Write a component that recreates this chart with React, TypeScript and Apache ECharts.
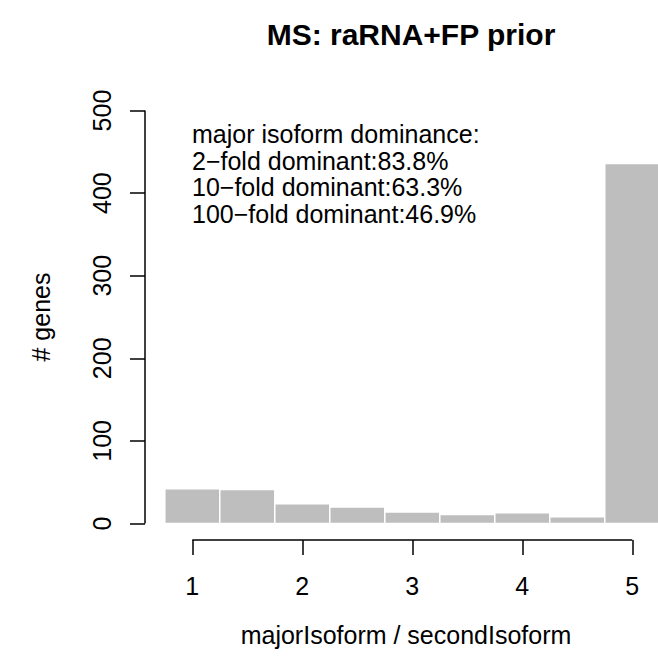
import React, { useEffect, useRef } from "react";
import * as echarts from "echarts";

const binEdges = [0.75, 1.25, 1.75, 2.25, 2.75, 3.25, 3.75, 4.25, 4.75, 5.25];
const counts = [42, 41, 24, 20, 14, 11, 13, 8, 436];
const xTicks = [1, 2, 3, 4, 5];
const yTicks = [0, 100, 200, 300, 400, 500];
const titleText = "MS: raRNA+FP prior";
const xLabel = "majorIsoform / secondIsoform";
const yLabel = "# genes";
const noteLines = [
  "major isoform dominance:",
  "2\u2212fold dominant:83.8%",
  "10\u2212fold dominant:63.3%",
  "100\u2212fold dominant:46.9%",
];

const FONT = '"Liberation Sans", Arial, Helvetica, sans-serif';
const X_MIN = 0.57;
const X_MAX = 5.234;
const Y_MIN = -20;
const Y_MAX = 520;

export default function App() {
  const ref = useRef<HTMLDivElement>(null);
  useEffect(() => {
    document.body.style.margin = "0";
    const chart = echarts.init(ref.current!, null, { renderer: "svg" });
    const barData = counts.map((c, i) => [binEdges[i], binEdges[i + 1], c]);
    const textStyle = (size: number, weight = "normal") => ({
      fontSize: size,
      fontWeight: weight,
      fontFamily: FONT,
      fill: "#000",
    });
    chart.setOption({
      animation: false,
      backgroundColor: "#ffffff",
      grid: { left: 145, right: 0, top: 94, bottom: 123, containLabel: false },
      xAxis: {
        type: "value",
        min: X_MIN,
        max: X_MAX,
        axisLine: { show: false, onZero: false },
        splitLine: { show: false },
        axisTick: {
          show: true,
          length: 15,
          customValues: xTicks,
          lineStyle: { color: "#000", width: 1.5 },
        },
        axisLabel: {
          customValues: xTicks,
          margin: 33,
          fontSize: 25,
          fontFamily: FONT,
          color: "#000",
        },
      },
      yAxis: {
        type: "value",
        min: Y_MIN,
        max: Y_MAX,
        axisLine: { show: false, onZero: false },
        splitLine: { show: false },
        axisTick: {
          show: true,
          length: 15,
          customValues: yTicks,
          lineStyle: { color: "#000", width: 1.5 },
        },
        axisLabel: {
          customValues: yTicks,
          rotate: 90,
          margin: 31,
          fontSize: 25,
          fontFamily: FONT,
          color: "#000",
        },
      },
      series: [
        {
          type: "custom",
          data: barData,
          encode: { x: [0, 1], y: 2 },
          renderItem: (params: any, api: any) => {
            const p0 = api.coord([api.value(0), api.value(2)]);
            const p1 = api.coord([api.value(1), 0]);
            return {
              type: "rect",
              shape: { x: p0[0], y: p0[1], width: p1[0] - p0[0], height: p1[1] - p0[1] },
              style: { fill: "#bebebe", stroke: "#ffffff", lineWidth: 1.5 },
            };
          },
        },
        {
          type: "line",
          data: [
            [xTicks[0], Y_MIN],
            [xTicks[xTicks.length - 1], Y_MIN],
          ],
          symbol: "none",
          clip: false,
          lineStyle: { color: "#000", width: 1.5 },
          silent: true,
        },
        {
          type: "line",
          data: [
            [X_MIN, yTicks[0]],
            [X_MIN, yTicks[yTicks.length - 1]],
          ],
          symbol: "none",
          clip: false,
          lineStyle: { color: "#000", width: 1.5 },
          silent: true,
        },
      ],
      graphic: [
        {
          type: "text",
          x: 411,
          y: 34,
          style: { text: titleText, ...textStyle(30, "bold"), align: "center", verticalAlign: "middle" },
        },
        ...noteLines.map((t, i) => ({
          type: "text",
          x: 192,
          y: 134 + i * 26.6,
          style: { text: t, ...textStyle(25), align: "left", verticalAlign: "middle" },
        })),
        {
          type: "text",
          x: 406,
          y: 635,
          style: { text: xLabel, ...textStyle(25), align: "center", verticalAlign: "middle" },
        },
        {
          type: "text",
          x: 41,
          y: 317,
          rotation: Math.PI / 2,
          style: { text: yLabel, ...textStyle(25), align: "center", verticalAlign: "middle" },
        },
      ],
    });
    return () => chart.dispose();
  }, []);
  return <div ref={ref} style={{ width: 658, height: 663 }} />;
}
